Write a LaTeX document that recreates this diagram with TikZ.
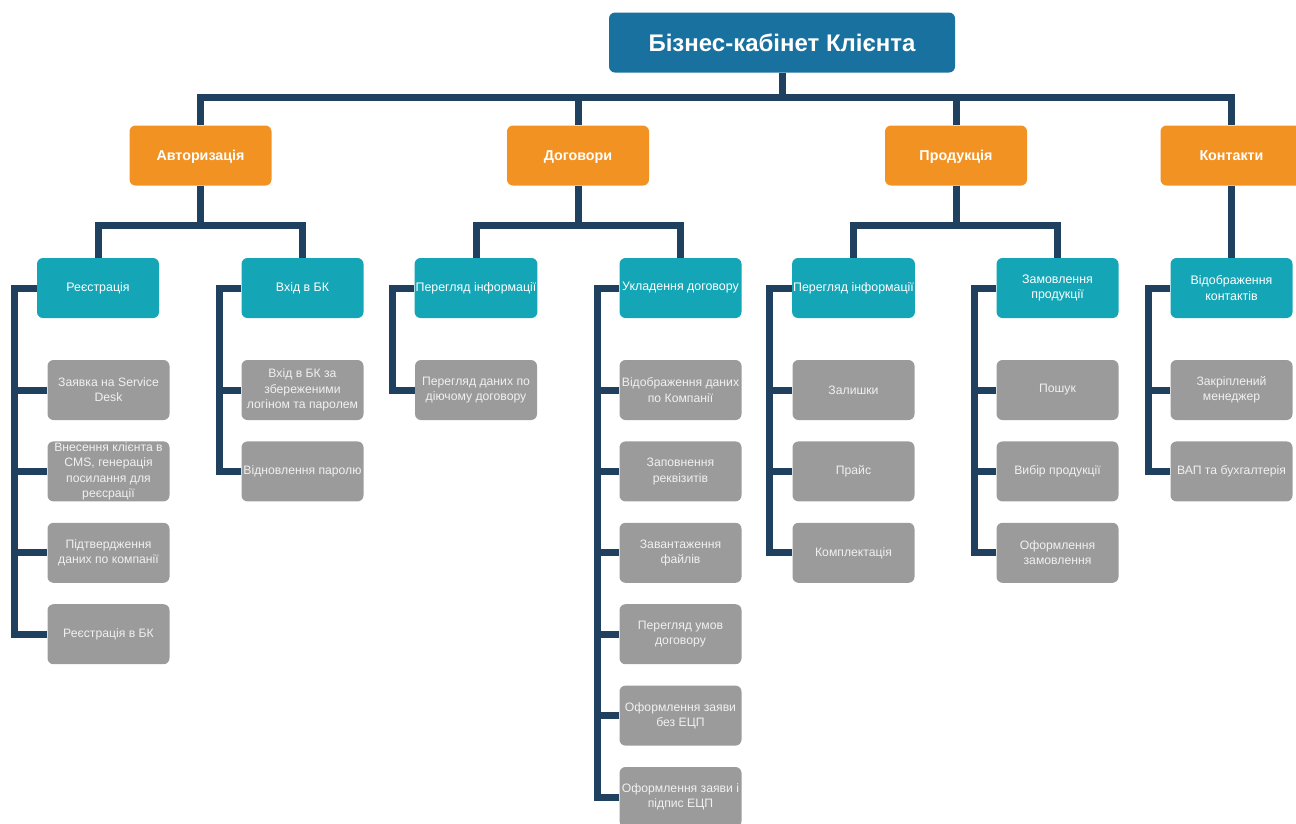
\documentclass[tikz,border=0pt]{standalone}
\usepackage{fontspec}
\setmainfont{Liberation Sans}
\definecolor{bkblue}{HTML}{18719E}
\definecolor{bkorange}{HTML}{F29222}
\definecolor{bkteal}{HTML}{14A6B6}
\definecolor{bkgray}{HTML}{9B9B9B}
\definecolor{bkline}{HTML}{1F405E}
\begin{document}
\begin{tikzpicture}[
  x=1pt,y=-1pt,
  wire/.style={draw=bkline,line width=7pt},
  box/.style={rounded corners=6pt,minimum height=60pt,align=center,inner sep=1pt,text=white},
  head/.style={box,fill=bkblue,minimum width=346pt,font=\fontsize{24}{28}\selectfont\bfseries},
  group/.style={box,fill=bkorange,minimum width=142pt,text height=10pt,text depth=0pt,
    font=\fontsize{14.3}{17}\selectfont\bfseries},
  topic/.style={box,fill=bkteal,minimum width=122pt,font=\fontsize{12.4}{15.5}\selectfont},
  item/.style={box,fill=bkgray,minimum width=122pt,text=white!94!black,font=\fontsize{12.2}{15.2}\selectfont}]
  \useasboundingbox (0,0) rectangle (1296,823);

  \node[head] (title) at (782,42.5) {Бізнес-кабінет Клієнта};
  \coordinate (bus) at (0,97);
  \coordinate (mid) at (0,225);

  \node[group] (auth) at (200.5,155.5) {Авторизація};
  \node[group] (dog) at (578,155.5) {Договори};
  \node[group] (prod) at (956,155.5) {Продукція};
  \node[group] (cont) at (1231.5,155.5) {Контакти};

  \node[topic] (reg) at (98,288) {Реєстрація};
  \node[topic] (vhid) at (302.5,288) {Вхід в БК};
  \node[topic] (pi1) at (476,288) {Перегляд інформації};
  \node[topic] (ukl) at (680.5,288) {Укладення договору};
  \node[topic] (pi2) at (853.5,288) {Перегляд інформації};
  \node[topic] (zam) at (1057.5,288) {Замовлення\\продукції};
  \node[topic] (vid) at (1231.5,288) {Відображення\\контактів};

  % grey rows, 81.4 apart
  \foreach \t [count=\i] in {{Заявка на Service\\Desk},
    {Внесення клієнта в\\CMS, генерація\\посилання для\\реєсрації},
    {Підтвердження\\даних по компанії},{Реєстрація в БК}}
    \node[item] (reg\i) at (108.5,{390+81.4*(\i-1)}) {\t};
  \foreach \t [count=\i] in {{Вхід в БК за\\збереженими\\логіном та паролем},
    {Відновлення паролю}}
    \node[item] (vhid\i) at (302.5,{390+81.4*(\i-1)}) {\t};
  \node[item] (pi11) at (476,390) {Перегляд даних по\\діючому договору};
  \foreach \t [count=\i] in {{Відображення даних\\по Компанії},{Заповнення\\реквізитів},
    {Завантаження\\файлів},{Перегляд умов\\договору},{Оформлення заяви\\без ЕЦП},
    {Оформлення заяви і\\підпис ЕЦП}}
    \node[item] (ukl\i) at (680.5,{390+81.4*(\i-1)}) {\t};
  \foreach \t [count=\i] in {Залишки,Прайс,Комплектація}
    \node[item] (pi2\i) at (853.5,{390+81.4*(\i-1)}) {\t};
  \foreach \t [count=\i] in {Пошук,{Вибір продукції},{Оформлення\\замовлення}}
    \node[item] (zam\i) at (1057.5,{390+81.4*(\i-1)}) {\t};
  \foreach \t [count=\i] in {{Закріплений\\менеджер},{ВАП та бухгалтерія}}
    \node[item] (vid\i) at (1231.5,{390+81.4*(\i-1)}) {\t};

  % top levels
  \draw[wire] (title.south) -- (title.south |- bus);
  \draw[wire] (auth.north) |- (bus -| cont.north) -- (cont.north);
  \draw[wire] (dog.north) -- (dog.north |- bus);
  \draw[wire] (prod.north) -- (prod.north |- bus);

  \draw[wire] (auth.south) -- (auth.south |- mid);
  \draw[wire] (reg.north) |- (vhid.north |- mid) -- (vhid.north);
  \draw[wire] (dog.south) -- (dog.south |- mid);
  \draw[wire] (pi1.north) |- (ukl.north |- mid) -- (ukl.north);
  \draw[wire] (prod.south) -- (prod.south |- mid);
  \draw[wire] (pi2.north) |- (zam.north |- mid) -- (zam.north);
  \draw[wire] (cont.south) -- (vid.north);

  % side trunks
  \foreach \c/\n in {reg/4,vhid/2,pi1/1,ukl/6,pi2/3,zam/3,vid/2} {
    \draw[wire] (\c.west) -- ++(-22,0) coordinate (\c-t) |- (\c\n.west);
    \foreach \i in {1,...,\n}
      \draw[wire] (\c\i.west) -- (\c\i.west -| \c-t);
  }
\end{tikzpicture}
\end{document}
